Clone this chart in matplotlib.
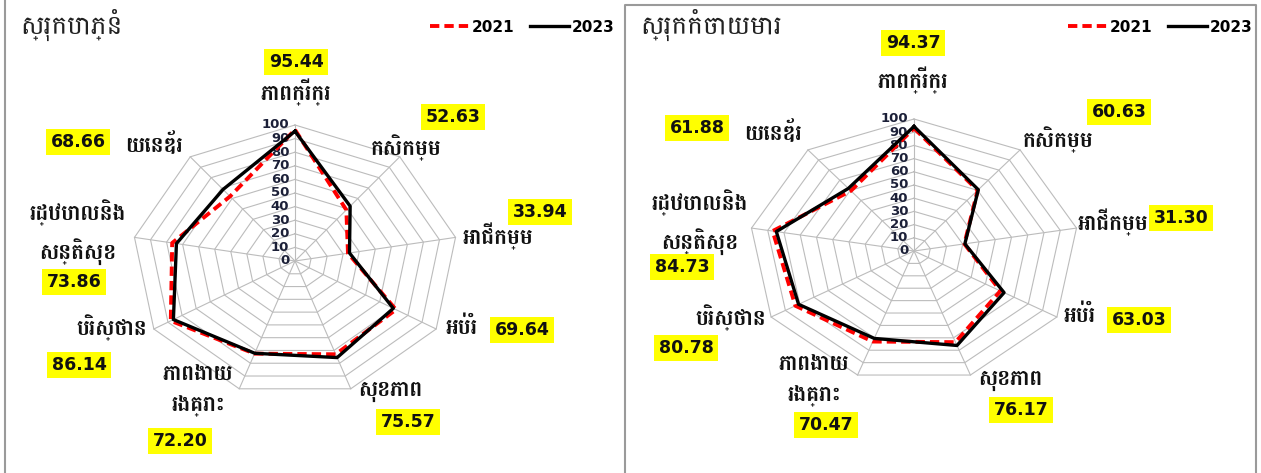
import matplotlib
matplotlib.use('Agg')
import matplotlib.pyplot as plt
import numpy as np
from matplotlib.lines import Line2D

# categories clockwise from the top
categories = ['ភាពក្រីក្រ', 'កសិកម្ម', 'អាជីកម្ម', 'អប់រំ', 'សុខភាព',
              'ភាពងាយ\nរងគ្រោះ', 'បរិស្ថាន', 'រដ្ឋបាលនិង\nសន្តិសុខ', 'យេនឌ័រ']
years = ['2021', '2023']

baphnom_title = 'ស្រុកបាភ្នំ'
baphnom_2021 = [96.5, 49.0, 33.0, 71.5, 73.0, 72.5, 88.0, 76.5, 62.0]
baphnom_2023 = [95.44, 52.63, 33.94, 69.64, 75.57, 72.20, 86.14, 73.86, 68.66]

kamchaymear_title = 'ស្រុកកំចាយមារ'
kamchaymear_2021 = [93.0, 60.0, 31.0, 60.5, 73.5, 73.0, 83.0, 87.0, 59.5]
kamchaymear_2023 = [94.37, 60.63, 31.30, 63.03, 76.17, 70.47, 80.78, 84.73, 61.88]

ticks = list(range(0, 101, 10))

KH = ['Battambang', 'DejaVu Sans']
W, H = 1261, 473


def px(x, y):
    return x / W, 1 - y / H


def radar_xy(vals):
    n = len(vals)
    ang = np.arange(n) * 2 * np.pi / n
    v = np.asarray(vals, dtype=float)
    x = v * np.sin(ang)
    y = v * np.cos(ang)
    return np.append(x, x[0]), np.append(y, y[0])


def draw_panel(fig, box, center, scale, title, v21, v23, layout, legend_pos):
    x0, y0, x1, y1 = box
    cx, cy = center
    sx, sy = scale
    ax = fig.add_axes([x0 / W, 1 - y1 / H, (x1 - x0) / W, (y1 - y0) / H])
    ax.set_xlim((x0 - cx) / sx, (x1 - cx) / sx)
    ax.set_ylim((cy - y1) / sy, (cy - y0) / sy)
    ax.axis('off')

    # polygon grid
    for r in ticks[1:]:
        gx, gy = radar_xy([r] * len(categories))
        ax.plot(gx, gy, color='#bcbcbc', lw=0.8, zorder=1)
    ox, oy = radar_xy([100] * len(categories))
    for i in range(len(categories)):
        ax.plot([0, ox[i]], [0, oy[i]], color='#bcbcbc', lw=0.8, zorder=1)
    for r in ticks:
        ax.text(-3.5, r, str(r), ha='right', va='center', fontsize=9.5,
                fontweight='bold', color='#1c2038', zorder=2)

    lx, ly = radar_xy(v21)
    ax.plot(lx, ly, color='#ff0000', lw=2.8, ls=(0, (2.4, 1.3)), zorder=3,
            label=years[0])
    lx, ly = radar_xy(v23)
    ax.plot(lx, ly, color='black', lw=2.4, zorder=4, label=years[1])

    fig.text(*px(x0 + 15, 25), title, family=KH, fontsize=19, ha='left',
             va='center', color='#222222')

    for i, (lab, val) in enumerate(zip(categories, v23)):
        (tx, ty, tha), (nx, ny) = layout[i]
        fig.text(*px(tx + x0 - 5, ty), lab, family=KH, fontsize=15.5,
                 fontweight='bold', ha=tha, va='center', color='#111111',
                 linespacing=1.6)
        fig.text(*px(nx + x0 - 5, ny), '%.2f' % val, fontsize=12.5,
                 fontweight='bold', ha='center', va='center', color='#111111',
                 bbox=dict(boxstyle='square,pad=0.25', fc='#ffff00', ec='none'))

    ax.legend(loc='center', bbox_to_anchor=px(*legend_pos),
              bbox_transform=fig.transFigure, ncol=2, frameon=False,
              handlelength=2.6, handletextpad=0.15, columnspacing=1.0,
              prop={'weight': 'bold', 'size': 11})
    return ax


fig = plt.figure(figsize=(W / 100, H / 100), dpi=100)

# (label x, label y, align), (value x, value y) in pixels inside each panel
layout_left = [
    ((296, 92, 'center'), (296, 62)),
    ((406, 148, 'center'), (453, 117)),
    ((498, 236, 'center'), (540, 212)),
    ((462, 328, 'center'), (522, 330)),
    ((390, 391, 'center'), (408, 422)),
    ((198, 390, 'center'), (180, 441)),
    ((112, 328, 'center'), (79, 365)),
    ((78, 232, 'center'), (74, 282)),
    ((154, 145, 'center'), (78, 142)),
]
layout_right = [
    ((293, 80, 'center'), (293, 43)),
    ((438, 140, 'center'), (499, 112)),
    ((528, 222, 'right'), (561, 218)),
    ((460, 316, 'center'), (519, 320)),
    ((390, 380, 'center'), (401, 410)),
    ((194, 380, 'center'), (206, 425)),
    ((111, 318, 'center'), (66, 348)),
    ((80, 222, 'center'), (62, 267)),
    ((153, 133, 'center'), (77, 128)),
]

draw_panel(fig, (5, 0, 620, 473), (295, 261), (1.63, 1.36), baphnom_title,
           baphnom_2021, baphnom_2023, layout_left, (522, 27))
draw_panel(fig, (625, 5, 1256, 473), (914, 251), (1.65, 1.32),
           kamchaymear_title, kamchaymear_2021, kamchaymear_2023,
           layout_right, (1160, 27))

# panel frames
fig.add_artist(Line2D([5 / W, 5 / W], [0, 1], color='#9a9a9a', lw=1.5))
fig.add_artist(Line2D([625 / W, 625 / W, 1256 / W, 1256 / W],
                      [0, 1 - 5 / H, 1 - 5 / H, 0], color='#9a9a9a', lw=1.5))

fig.savefig('out.png', dpi=100, facecolor='white')
